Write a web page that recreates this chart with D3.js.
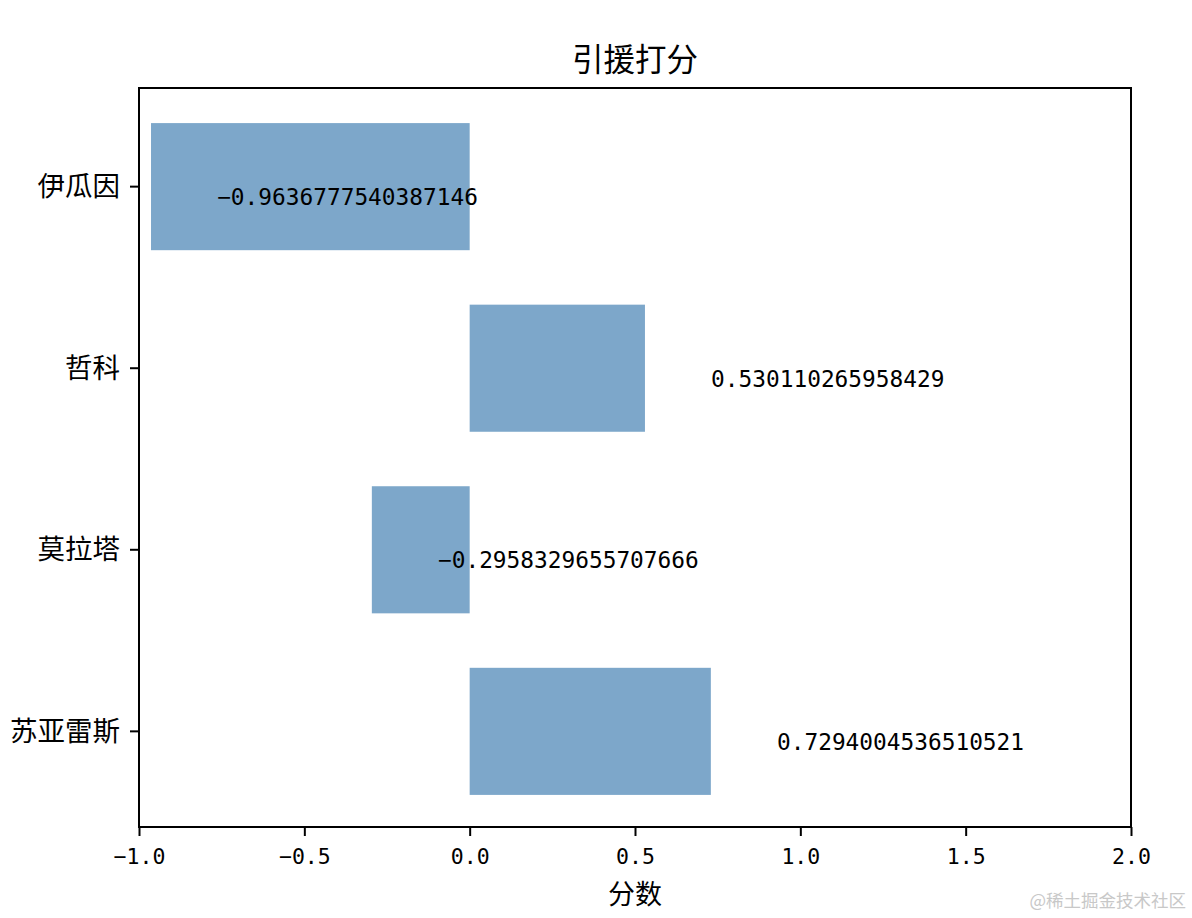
<!DOCTYPE html>
<html><head><meta charset="utf-8">
<script src="https://cdn.jsdelivr.net/npm/d3@7"></script>
<style>body{margin:0;background:#fff}</style>
</head><body>
<script>
const players = ["伊瓜因", "哲科", "莫拉塔", "苏亚雷斯"];
const scores = [-0.9636777540387146, 0.530110265958429, -0.2958329655707666, 0.7294004536510521];
const scoreLabels = ["-0.9636777540387146", "0.530110265958429", "-0.2958329655707666", "0.7294004536510521"];
const xTicks = [-1.0, -0.5, 0.0, 0.5, 1.0, 1.5, 2.0];
const title = "引援打分";
const xLabel = "分数";

const W = 1192, H = 918;
const L = 139, R = 1131, T = 88, B = 827;
const cjk = "'Noto Sans CJK SC', sans-serif";
const mono = "'DejaVu Sans Mono', monospace";

const svg = d3.select("body").append("svg").attr("width", W).attr("height", H);
svg.append("rect").attr("width", W).attr("height", H).attr("fill", "#fff");

const x = d3.scaleLinear().domain([-1, 2]).range([L, R]);
const y = d3.scaleBand().domain(players).range([T + 1.5, B + 1.5]).paddingInner(0.3).paddingOuter(0.185);

// bars
svg.append("g").selectAll("rect").data(players).join("rect")
  .attr("x", (d, i) => x(Math.min(0, scores[i])))
  .attr("width", (d, i) => Math.abs(x(scores[i]) - x(0)))
  .attr("y", d => y(d))
  .attr("height", y.bandwidth())
  .attr("fill", "steelblue").attr("fill-opacity", 0.7);

// value labels
svg.append("g").selectAll("text").data(players).join("text")
  .attr("x", (d, i) => x(scores[i] + 0.2))
  .attr("y", d => y(d) + y.bandwidth() / 2 + 18.5)
  .attr("font-family", mono).attr("font-size", 22.8).attr("fill", "#000")
  .text((d, i) => scoreLabels[i].replace("-", "\u2212"));

// axes
const xAxis = d3.axisBottom(x).tickValues(xTicks).tickSize(9).tickPadding(8)
  .tickFormat(v => d3.format(".1f")(v).replace("-", "\u2212"));
const gx = svg.append("g").attr("transform", `translate(0,${B})`).call(xAxis);
gx.select(".domain").remove();
gx.selectAll(".tick line").attr("stroke", "#000").attr("stroke-width", 2);
gx.selectAll(".tick text").attr("font-family", mono).attr("font-size", 21.5).attr("fill", "#000")
  .attr("dy", "0.95em");

const yAxis = d3.axisLeft(y).tickSize(9).tickPadding(10);
const gy = svg.append("g").attr("transform", `translate(${L},0)`).call(yAxis);
gy.select(".domain").remove();
gy.selectAll(".tick line").attr("stroke", "#000").attr("stroke-width", 2);
gy.selectAll(".tick text").attr("font-family", cjk).attr("font-size", 27.5).attr("fill", "#000")
  .attr("dy", "0.35em");

// frame
svg.append("rect").attr("x", L).attr("y", T).attr("width", R - L).attr("height", B - T)
  .attr("fill", "none").attr("stroke", "#000").attr("stroke-width", 2);

// title & label
svg.append("text").attr("x", (L + R) / 2).attr("y", 71).attr("text-anchor", "middle")
  .attr("font-family", cjk).attr("font-size", 31.5).attr("fill", "#000").text(title);
svg.append("text").attr("x", (L + R) / 2).attr("y", 904).attr("text-anchor", "middle")
  .attr("font-family", cjk).attr("font-size", 27).attr("fill", "#000").text(xLabel);

// watermark
svg.append("text").attr("x", 1186).attr("y", 907).attr("text-anchor", "end")
  .attr("font-family", cjk).attr("font-size", 17.5).attr("fill", "#c8c8c8").text("@稀土掘金技术社区");
</script>
</body></html>
